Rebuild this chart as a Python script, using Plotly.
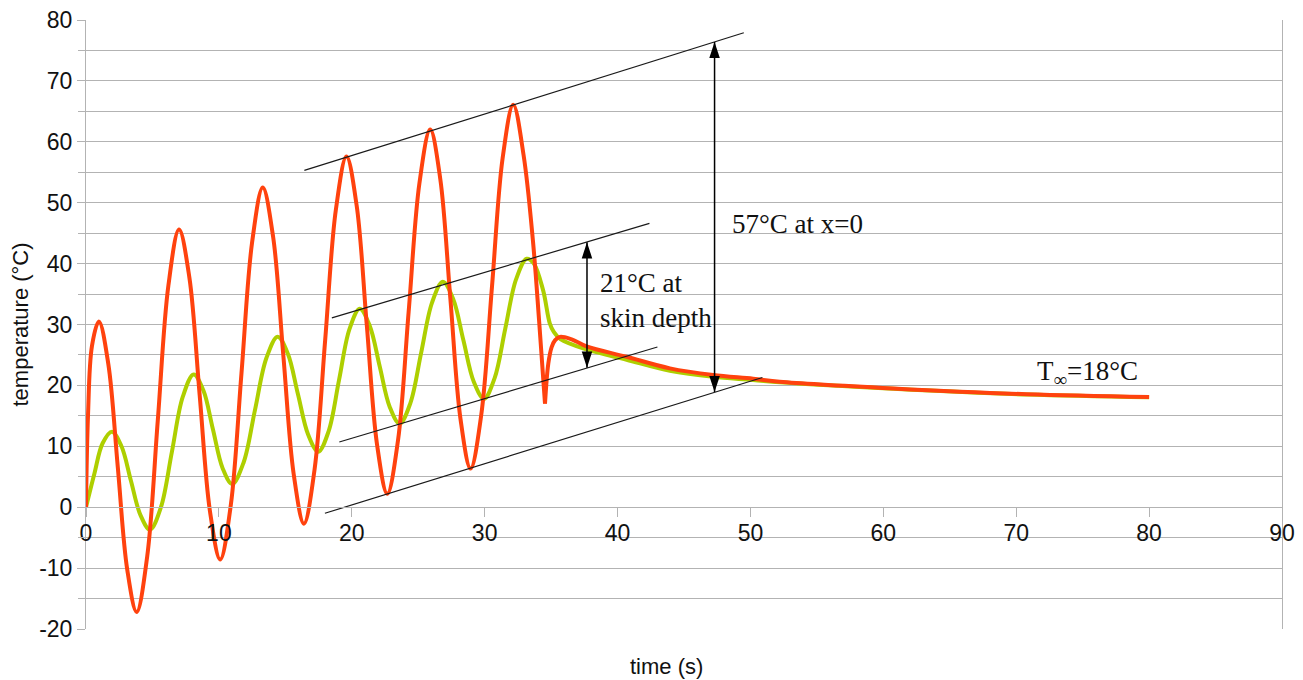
import plotly.graph_objects as go

# ---- data ----
# surface (x=0) temperature, oscillating part up to the final dip
red_a_x = [0.0, 0.15, 0.45, 0.97, 1.68, 2.39, 3.10, 3.81, 4.61, 5.4, 6.2, 7.0, 7.78, 8.55, 9.33,
           10.1, 10.9, 11.7, 12.5, 13.3, 14.08, 14.85, 15.63, 16.4, 17.2, 18.0, 18.8, 19.6,
           20.37, 21.13, 21.9, 22.67, 23.48, 24.28, 25.09, 25.9, 26.66, 27.42, 28.18, 28.94,
           29.74, 30.55, 31.35, 32.15, 32.93, 33.63, 34.1, 34.54]
red_a_y = [0.0, 15.0, 26.5, 30.5, 23.5, 6.65, -10.2, -17.2, -8.0, 14.2, 36.4, 45.6, 37.7, 18.5,
           -0.7, -8.6, 0.4, 22.0, 43.5, 52.5, 44.4, 24.9, 5.4, -2.7, 6.2, 27.5, 48.8, 57.6,
           49.5, 29.9, 10.3, 2.2, 11.0, 32.1, 53.2, 62.0, 53.9, 34.2, 14.5, 6.35,
           15.1, 36.2, 57.3, 66.1, 57.8, 43.8, 30.5, 17.0]
# surface temperature after the dip (decay towards T_inf)
red_b_x = [34.54, 34.79, 35.04, 35.29, 35.67, 36.5, 37.67, 40.68, 43.94, 47.2, 50.2, 52.2,
           60.75, 70.8, 80.0]
red_b_y = [17.0, 23.6, 26.3, 27.4, 27.97, 27.6, 26.4, 24.7, 22.8, 21.7, 21.1, 20.6,
           19.5, 18.55, 18.1]

# temperature at skin depth
green_x = [0.0, 0.63, 1.25, 1.95, 2.67, 3.38, 4.1, 4.82, 5.64, 6.46, 7.28, 8.1, 8.83, 9.55,
           10.28, 11.0, 11.86, 12.71, 13.57, 14.42, 15.19, 15.95, 16.72, 17.48, 18.26, 19.04,
           19.82, 20.6, 21.35, 22.1, 22.85, 23.6, 24.41, 25.22, 26.04, 26.85, 27.63, 28.4,
           29.18, 29.95, 30.75, 31.55, 32.36, 33.16, 33.7, 34.4, 34.9, 35.2, 35.7, 37.67,
           40.68, 43.94, 47.2, 50.2, 52.2, 60.75, 70.8, 80.0]
green_y = [0.0, 5.5, 10.5, 12.4, 10.0, 4.35, -1.3, -3.7, 0.0, 9.05, 18.1, 21.8, 19.2, 12.8,
           6.4, 3.8, 7.35, 15.9, 24.45, 28.0, 25.2, 18.55, 11.9, 9.1, 12.5, 20.85,
           29.2, 32.6, 29.8, 23.15, 16.5, 13.7, 17.1, 25.35, 33.6, 37.0, 34.2, 27.4,
           20.6, 17.8, 21.2, 29.3, 37.4, 40.8, 40.0, 35.6, 30.2, 28.8, 27.6, 25.9,
           24.2, 22.4, 21.4, 20.9, 20.5, 19.45, 18.5, 18.05]

# envelope guide lines (x pair, y pair)
env_top_x, env_top_y = [16.43, 49.5], [55.3, 77.9]
env_bot_x, env_bot_y = [17.98, 50.9], [-1.0, 21.3]
env_gup_x, env_gup_y = [18.5, 42.4], [31.1, 46.6]
env_glo_x, env_glo_y = [19.06, 43.0], [10.7, 26.3]

# double arrows (x, y_top, y_bottom)
arrow1 = (47.3, 76.4, 18.9)
arrow2 = (37.7, 43.5, 22.9)

x_ticks = list(range(0, 91, 10))
y_ticks = list(range(-20, 81, 10))

RED = "#ff420e"
GREEN = "#aecf00"
GRID = "#b3b3b3"
INK = "#111111"

fig = go.Figure()

fig.add_trace(go.Scatter(x=green_x, y=green_y, mode="lines",
                         line=dict(color=GREEN, width=4, shape="spline"),
                         showlegend=False, hoverinfo="skip"))
fig.add_trace(go.Scatter(x=red_a_x, y=red_a_y, mode="lines",
                         line=dict(color=RED, width=4, shape="spline"),
                         showlegend=False, hoverinfo="skip"))
fig.add_trace(go.Scatter(x=red_b_x, y=red_b_y, mode="lines",
                         line=dict(color=RED, width=4, shape="spline"),
                         showlegend=False, hoverinfo="skip"))

for ex, ey in [(env_top_x, env_top_y), (env_bot_x, env_bot_y),
               (env_gup_x, env_gup_y), (env_glo_x, env_glo_y)]:
    fig.add_trace(go.Scatter(x=ex, y=ey, mode="lines",
                             line=dict(color="#1a1a1a", width=1.2),
                             showlegend=False, hoverinfo="skip"))

for ax_, ytop, ybot in [arrow1, arrow2]:
    fig.add_trace(go.Scatter(x=[ax_, ax_], y=[ytop, ybot], mode="lines+markers",
                             line=dict(color="#000000", width=1.5),
                             marker=dict(symbol="arrow", size=17, angle=[0, 180],
                                         color="#000000", line=dict(width=0)),
                             showlegend=False, hoverinfo="skip"))

serif = dict(family="Liberation Serif, Times New Roman, serif", size=27, color="#111111")
fig.add_annotation(x=48.46, y=46.5, xref="x", yref="y", text="57°C at x=0",
                   showarrow=False, xanchor="left", yanchor="middle", font=serif)
fig.add_annotation(x=38.5, y=34.0, xref="x", yref="y", text="21°C at<br>skin depth",
                   showarrow=False, xanchor="left", yanchor="middle", align="left", font=serif)
fig.add_annotation(x=71.4, y=22.0, xref="x", yref="y", text="T<sub>∞</sub>=18°C",
                   showarrow=False, xanchor="left", yanchor="middle", font=serif)

sans = "Liberation Sans, Arial, sans-serif"
fig.add_annotation(x=0.4855, y=0, xref="paper", yref="paper",
                   text="time (s)", showarrow=False, xanchor="center", yanchor="middle",
                   yshift=-37, font=dict(family=sans, size=22, color=INK))
fig.add_annotation(x=0, y=0.5, xref="paper", yref="paper", text="temperature (°C)",
                   textangle=-90, showarrow=False, xanchor="center", yanchor="middle",
                   xshift=-66, font=dict(family=sans, size=22, color=INK))

fig.update_layout(
    width=1303, height=680,
    margin=dict(l=86, r=21, t=20, b=51),
    paper_bgcolor="white", plot_bgcolor="white",
    font=dict(family=sans, color=INK),
    xaxis=dict(range=[0, 90], tickvals=x_ticks, ticktext=[str(v) for v in x_ticks],
               showgrid=False, zeroline=False, automargin=False,
               anchor="free", position=0.2, ticks="outside", ticklen=9,
               tickcolor=GRID, tickwidth=1, showline=True, linecolor=GRID, linewidth=1,
               ticklabelstandoff=-4,
               tickfont=dict(size=23, color=INK)),
    yaxis=dict(range=[-20, 80], tickvals=y_ticks, ticktext=[str(v) for v in y_ticks],
               showgrid=True, gridcolor=GRID, automargin=False,
               gridwidth=1, zeroline=False, ticks="outside", ticklen=8, tickcolor=GRID,
               showline=True, mirror=True, linecolor=GRID, linewidth=1,
               tickfont=dict(size=23, color=INK),
               minor=dict(dtick=5, showgrid=True, gridcolor=GRID, gridwidth=1,
                          ticks="outside", ticklen=7, tickcolor=GRID)),
)

fig.write_html("out.html", config={"displayModeBar": False},
               post_script="document.body.style.margin='0';document.body.style.overflow='hidden';")
